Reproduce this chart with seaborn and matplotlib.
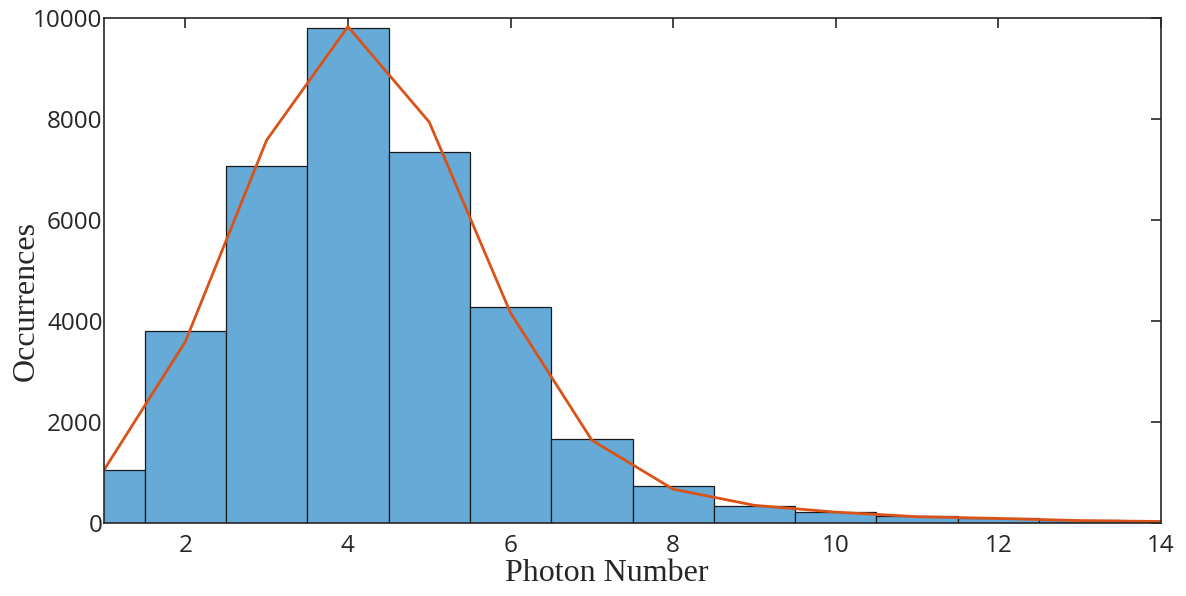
import matplotlib
matplotlib.use("Agg")
import matplotlib.pyplot as plt
import numpy as np
import pandas as pd
import seaborn as sns

photon_number = [1, 2, 3, 4, 5, 6, 7, 8, 9, 10, 11, 12, 13, 14]
occurrences = [1040, 3800, 7070, 9800, 7350, 4280, 1660, 730, 335, 210, 140, 105, 60, 30]
fit_values = [1050, 3590, 7580, 9830, 7940, 4160, 1640, 670, 350, 215, 125, 90, 48, 30]
x_ticks = [2, 4, 6, 8, 10, 12, 14]
y_ticks = [0, 2000, 4000, 6000, 8000, 10000]

sns.set_style("white")
plt.rcParams['font.family'] = ['Open Sans', 'DejaVu Sans']

df = pd.DataFrame({'photon': photon_number, 'count': occurrences, 'fit': fit_values})

fig = plt.figure(figsize=(11.86, 5.96), dpi=100)
ax = fig.add_axes([104 / 1186, 1 - 523 / 596, (1161 - 104) / 1186, (523 - 18) / 596])

sns.histplot(data=df, x='photon', weights='count', discrete=True, ax=ax,
             color='#66aad7', alpha=1.0, edgecolor='#1a1a1a', linewidth=0.9)
sns.lineplot(data=df, x='photon', y='fit', ax=ax, color='#D95319', linewidth=2)

ax.set_xlim(1, 14)
ax.set_ylim(0, 10000)
ax.set_xticks(x_ticks)
ax.set_yticks(y_ticks)
ax.tick_params(direction='in', length=7, width=1.2, colors='#262626', labelsize=17.5,
               top=True, right=True)
ax.tick_params(axis='x', pad=8)
ax.tick_params(axis='y', pad=1)
for s in ax.spines.values():
    s.set_color('#262626')
    s.set_linewidth(1.2)

ax.set_xlabel('Photon Number', family='Liberation Serif', fontsize=23)
ax.set_ylabel('Occurrences', family='Liberation Serif', fontsize=23)
# labels sit a bit off-centre in the original
ax.xaxis.set_label_coords(0.476, -0.072)
ax.yaxis.set_label_coords(-0.06, 0.44)

fig.savefig('out.png', dpi=100)
